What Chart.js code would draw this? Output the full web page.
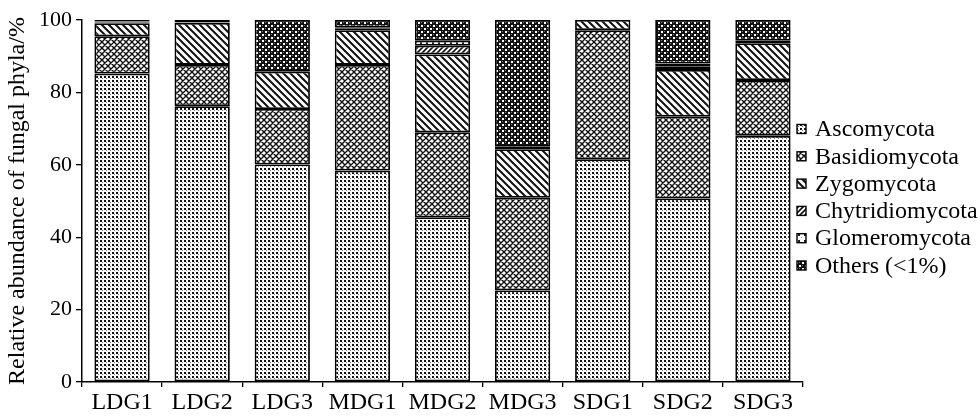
<!DOCTYPE html>
<html>
<head>
<meta charset="utf-8">
<script src="https://cdn.jsdelivr.net/npm/chart.js@4/dist/chart.umd.min.js"></script>
<style>
html,body{margin:0;padding:0;background:#fff;}
#wrap{width:980px;height:418px;position:relative;}
</style>
</head>
<body>
<div id="wrap"><canvas id="c" width="980" height="418"></canvas></div>
<script>
const categories = ['LDG1','LDG2','LDG3','MDG1','MDG2','MDG3','SDG1','SDG2','SDG3'];
const ascomycota      = [85.2, 76.2, 60.1, 58.4, 45.5, 25.3, 61.5, 50.7, 68.0];
const basidiomycota   = [10.3, 11.4, 15.3, 29.2, 23.5, 25.6, 35.7, 22.6, 15.4];
const zygomycota      = [3.6, 11.6, 10.3, 9.6, 21.5, 13.4, 2.8, 12.9, 10.2];
const chytridiomycota = [0.2, 0.1, 0, 0.5, 2.4, 0.7, 0, 1.0, 0.7];
const glomeromycota   = [0.3, 0.1, 0, 0.3, 1.4, 0, 0, 0.8, 0];
const others          = [0.4, 0.6, 14.3, 2.0, 5.7, 35.0, 0, 12.0, 5.7];
const seriesNames = ['Ascomycota','Basidiomycota','Zygomycota','Chytridiomycota','Glomeromycota','Others (<1%)'];
const yTicks = [0, 20, 40, 60, 80, 100];

const SERIF = '"Liberation Serif", "Times New Roman", serif';

function makePattern(size, draw) {
  const c = document.createElement('canvas');
  c.width = size; c.height = size;
  const g = c.getContext('2d');
  g.fillStyle = '#fff';
  g.fillRect(0, 0, size, size);
  draw(g, size);
  return document.createElement('canvas').getContext('2d').createPattern(c, 'repeat');
}
const pAsco = makePattern(4, (g) => {
  g.fillStyle = '#111'; g.fillRect(0, 0, 2, 2);
  g.fillStyle = '#777'; g.fillRect(2, 2, 1, 1);
});
const pBasid = makePattern(6, (g, s) => {
  g.strokeStyle = '#111'; g.lineWidth = 1.4;
  g.beginPath();
  g.moveTo(0, 0); g.lineTo(s, s);
  g.moveTo(s, 0); g.lineTo(0, s);
  g.moveTo(-1, s - 1); g.lineTo(1, s + 1);
  g.moveTo(s - 1, -1); g.lineTo(s + 1, 1);
  g.moveTo(-1, 1); g.lineTo(1, -1);
  g.moveTo(s - 1, s + 1); g.lineTo(s + 1, s - 1);
  g.stroke();
});
const pZygo = makePattern(7, (g, s) => {
  g.strokeStyle = '#111'; g.lineWidth = 2;
  g.beginPath();
  g.moveTo(0, 0); g.lineTo(s, s);
  g.moveTo(-2, s - 2); g.lineTo(2, s + 2);
  g.moveTo(s - 2, -2); g.lineTo(s + 2, 2);
  g.stroke();
});
const pChyt = makePattern(5, (g, s) => {
  g.strokeStyle = '#111'; g.lineWidth = 1.6;
  g.beginPath();
  g.moveTo(0, s); g.lineTo(s, 0);
  g.moveTo(-2, 2); g.lineTo(2, -2);
  g.moveTo(s - 2, s + 2); g.lineTo(s + 2, s - 2);
  g.stroke();
});
const pGlom = makePattern(6, (g) => {
  g.fillStyle = '#222'; g.fillRect(0, 0, 2, 2);
  g.fillStyle = '#999'; g.fillRect(3, 3, 1, 1);
});
const pOthers = makePattern(6, (g) => {
  g.fillStyle = '#111'; g.fillRect(0, 0, 6, 6);
  g.fillStyle = '#fff'; g.fillRect(1, 1, 2, 2); g.fillRect(4, 4, 2, 2);
  g.fillStyle = '#777'; g.fillRect(4, 1, 1, 1); g.fillRect(1, 4, 1, 1);
});
const patterns = [pAsco, pBasid, pZygo, pChyt, pGlom, pOthers];
const seriesData = [ascomycota, basidiomycota, zygomycota, chytridiomycota, glomeromycota, others];

const datasets = seriesData.map((d, i) => ({
  label: seriesNames[i],
  data: d,
  backgroundColor: patterns[i],
  borderColor: '#000',
  borderWidth: (ctx) => (ctx.raw === 0 ? 0 : 1.8),
  borderSkipped: false,
  barPercentage: 0.69,
  categoryPercentage: 1.0
}));

const legendPlugin = {
  id: 'customLegend',
  afterDraw(chart) {
    const ctx = chart.ctx;
    ctx.save();
    const x0 = 797, y0 = 129, step = 27.3, box = 9;
    ctx.font = '24px ' + SERIF;
    ctx.textBaseline = 'middle';
    ctx.textAlign = 'left';
    chart.data.datasets.forEach((ds, i) => {
      const cy = y0 + i * step;
      ctx.fillStyle = ds.backgroundColor;
      ctx.fillRect(x0, cy - box / 2, box, box);
      ctx.strokeStyle = '#000';
      ctx.lineWidth = 1.4;
      ctx.strokeRect(x0, cy - box / 2, box, box);
      ctx.fillStyle = '#000';
      ctx.fillText(ds.label, x0 + 18, cy + 1);
    });
    ctx.restore();
  }
};

new Chart(document.getElementById('c'), {
  type: 'bar',
  data: { labels: categories, datasets },
  options: {
    responsive: false,
    animation: false,
    layout: { padding: { left: 0, right: 177, top: 20, bottom: 0 } },
    plugins: { legend: { display: false }, tooltip: { enabled: false } },
    scales: {
      x: {
        stacked: true,
        offset: true,
        grid: { offset: true, drawOnChartArea: false, drawTicks: true, tickLength: 5, color: '#000', lineWidth: 1.3 },
        border: { display: true, color: '#000', width: 1.5 },
        ticks: { color: '#000', font: { family: SERIF, size: 24 }, padding: 1, maxRotation: 0 },
        afterFit: (s) => { s.height = 36; }
      },
      y: {
        stacked: true,
        min: 0, max: 100,
        afterBuildTicks: (s) => { s.ticks = yTicks.map(v => ({ value: v })); },
        grid: { drawOnChartArea: false, drawTicks: true, tickLength: 6, color: '#000', lineWidth: 1.3 },
        border: { display: true, color: '#000', width: 1.5 },
        ticks: { color: '#000', font: { family: SERIF, size: 22 }, padding: 4 },
        title: { display: true, text: 'Relative abundance of fungal phyla/%', color: '#000', font: { family: SERIF, size: 24 }, padding: { top: 3, bottom: 0 } },
        afterFit: (s) => { s.width = 82; }
      }
    }
  },
  plugins: [legendPlugin]
});
</script>
</body>
</html>
